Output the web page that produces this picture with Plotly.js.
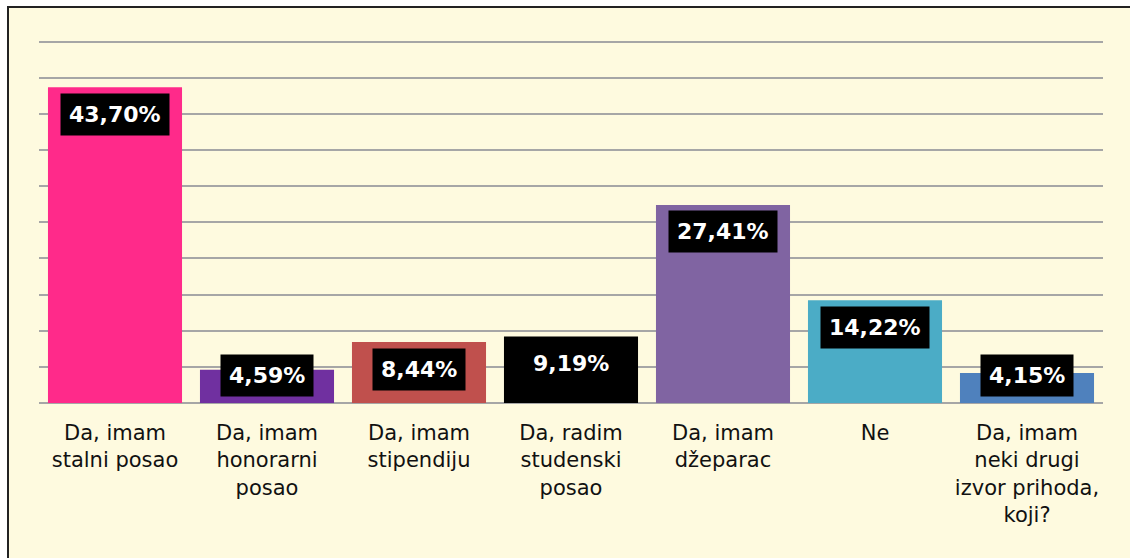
<!DOCTYPE html>
<html>
<head>
<meta charset="utf-8">
<script src="https://cdn.plot.ly/plotly-3.0.1.min.js"></script>
<style>
  html, body { margin: 0; padding: 0; background: #ffffff; }
  #chart { width: 1130px; height: 558px; }
</style>
</head>
<body>
<div id="chart"></div>
<script>
// Data
const categories = [
  "Da, imam<br>stalni posao",
  "Da, imam<br>honorarni<br>posao",
  "Da, imam<br>stipendiju",
  "Da, radim<br>studenski<br>posao",
  "Da, imam<br>džeparac",
  "Ne",
  "Da, imam<br>neki drugi<br>izvor prihoda,<br>koji?"
];
const values = [43.70, 4.59, 8.44, 9.19, 27.41, 14.22, 4.15];
const valueLabels = ["43,70%", "4,59%", "8,44%", "9,19%", "27,41%", "14,22%", "4,15%"];
const barColors = ["#FF2A8A", "#7030A0", "#C0504D", "#000000", "#8064A2", "#4BACC6", "#4F81BD"];

const W = 1130, H = 558;
const mL = 39, mR = 27, mT = 38, mB = 155;
const plotW = W - mL - mR, plotH = H - mT - mB;
const px2x = p => (p - mL) / plotW;
const px2y = p => 1 - (p - mT) / plotH;

const trace = {
  type: "bar",
  x: categories,
  y: values,
  marker: { color: barColors, line: { width: 0 } },
  hoverinfo: "skip"
};

const annotations = categories.map((c, i) => ({
  x: c,
  y: Math.max(values[i], 7.6),
  xref: "x",
  yref: "y",
  yanchor: "middle",
  yshift: -27,
  text: valueLabels[i],
  showarrow: false,
  bgcolor: "#000000",
  borderpad: 8,
  font: { family: "DejaVu Sans", size: 22, color: "#ffffff", weight: "bold" }
}));

const layout = {
  width: W,
  height: H,
  margin: { l: mL, r: mR, t: mT, b: mB, pad: 0 },
  paper_bgcolor: "#ffffff",
  plot_bgcolor: "rgba(0,0,0,0)",
  bargap: 0.118,
  showlegend: false,
  xaxis: {
    type: "category",
    showgrid: false,
    showline: false,
    ticks: "",
    ticklabelstandoff: 15,
    tickfont: { family: "DejaVu Sans", size: 21, color: "#111111" },
    fixedrange: true
  },
  yaxis: {
    range: [0, 50.5],
    dtick: 5,
    showticklabels: false,
    showgrid: true,
    gridcolor: "#A6A6A6",
    gridwidth: 2,
    zeroline: true,
    zerolinecolor: "#A6A6A6",
    zerolinewidth: 2,
    ticks: "",
    fixedrange: true
  },
  shapes: [{
    type: "rect",
    xref: "paper",
    yref: "paper",
    x0: px2x(8),
    x1: px2x(1140),
    y0: px2y(7),
    y1: px2y(570),
    fillcolor: "#FEFADF",
    line: { color: "#222222", width: 2 },
    layer: "below"
  }],
  annotations: annotations
};

Plotly.newPlot("chart", [trace], layout, { displayModeBar: false, staticPlot: true });
</script>
</body>
</html>
